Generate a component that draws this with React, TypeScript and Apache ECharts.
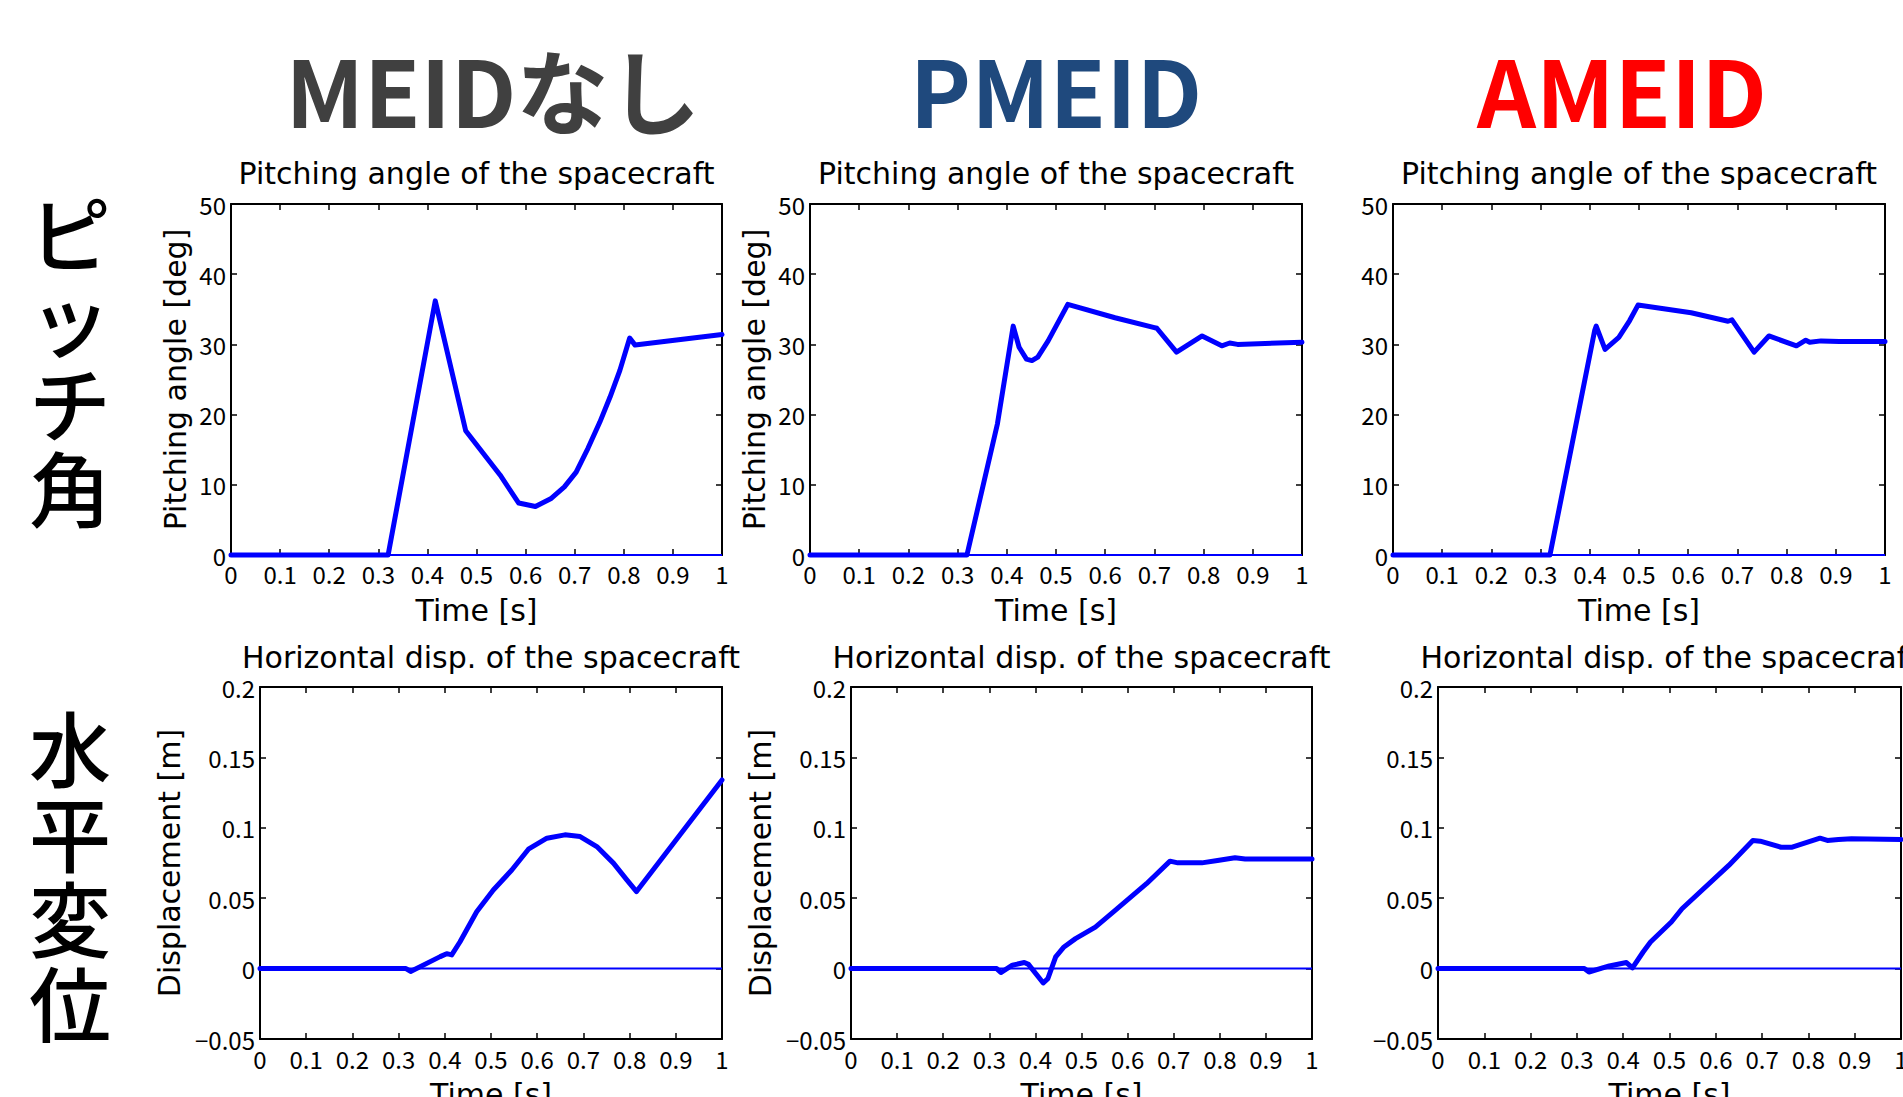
import { useEffect, useRef } from "react";
import * as echarts from "echarts";

const LATIN = "'DejaVu Sans', sans-serif";
const TICKFONT = "'Noto Sans CJK JP', sans-serif";
const CJK = "'Noto Sans CJK JP', sans-serif";

// ---------- texts ----------
const HEADERS = ["MEIDなし", "PMEID", "AMEID"];
const HEADER_COLORS = ["#404040", "#1F497D", "#FF0000"];
const ROW_LABELS = ["ピッチ角", "水平変位"];
const TITLES = ["Pitching angle of the spacecraft", "Horizontal disp. of the spacecraft"];
const X_NAME = "Time [s]";
const Y_NAMES = ["Pitching angle [deg]", "Displacement [m]"];

// ---------- axis ranges ----------
const X_MIN = 0, X_MAX = 1, X_STEP = 0.1;
const PITCH_MIN = 0, PITCH_MAX = 50, PITCH_STEP = 10;
const DISP_MIN = -0.05, DISP_MAX = 0.2, DISP_STEP = 0.05;

// ---------- data: pitching angle [deg] ----------
const PITCH_NONE_T = [0, 0.32, 0.416, 0.478, 0.548, 0.586, 0.62, 0.651, 0.679, 0.703, 0.727, 0.751, 0.772, 0.792, 0.812, 0.823, 1.0];
const PITCH_NONE_V = [0, 0, 36.2, 17.7, 11.4, 7.4, 6.9, 8.0, 9.7, 11.8, 15.2, 18.9, 22.5, 26.3, 30.9, 29.9, 31.4];

const PITCH_P_T = [0, 0.319, 0.381, 0.413, 0.425, 0.44, 0.451, 0.463, 0.484, 0.524, 0.62, 0.7, 0.705, 0.745, 0.797, 0.837, 0.853, 0.869, 1.0];
const PITCH_P_V = [0, 0, 18.7, 32.6, 29.6, 27.9, 27.7, 28.2, 30.5, 35.7, 33.8, 32.4, 32.3, 28.9, 31.2, 29.8, 30.2, 30.0, 30.3];

const PITCH_A_T = [0, 0.319, 0.364, 0.41, 0.413, 0.431, 0.459, 0.481, 0.498, 0.606, 0.681, 0.689, 0.734, 0.764, 0.82, 0.839, 0.847, 0.87, 0.907, 1.0];
const PITCH_A_V = [0, 0, 15.8, 32.0, 32.6, 29.3, 31.0, 33.4, 35.6, 34.5, 33.3, 33.5, 28.9, 31.2, 29.8, 30.6, 30.3, 30.5, 30.4, 30.4];

// ---------- data: horizontal displacement [m] ----------
const DISP_NONE_T = [0, 0.316, 0.326, 0.39, 0.404, 0.415, 0.433, 0.469, 0.505, 0.545, 0.581, 0.621, 0.66, 0.693, 0.729, 0.765, 0.794, 0.815, 1.0];
const DISP_NONE_V = [0, 0, -0.002, 0.0085, 0.0106, 0.0097, 0.0191, 0.0404, 0.0558, 0.07, 0.0848, 0.0926, 0.095, 0.0938, 0.0867, 0.0749, 0.063, 0.0547, 0.134];

const DISP_P_T = [0, 0.316, 0.325, 0.35, 0.376, 0.385, 0.417, 0.427, 0.444, 0.462, 0.487, 0.53, 0.573, 0.641, 0.692, 0.709, 0.761, 0.795, 0.833, 0.855, 1.0];
const DISP_P_V = [0, 0, -0.0028, 0.0024, 0.0043, 0.003, -0.0102, -0.0071, 0.0083, 0.0154, 0.0213, 0.0295, 0.0414, 0.0603, 0.0763, 0.0751, 0.0751, 0.0768, 0.0787, 0.0778, 0.0778];

const DISP_A_T = [0, 0.316, 0.326, 0.37, 0.407, 0.42, 0.443, 0.459, 0.504, 0.527, 0.628, 0.68, 0.696, 0.741, 0.765, 0.825, 0.841, 0.865, 0.893, 1.0];
const DISP_A_V = [0, 0, -0.0024, 0.0019, 0.0043, 0.0005, 0.0118, 0.0189, 0.0331, 0.0425, 0.0733, 0.091, 0.0905, 0.0862, 0.0862, 0.0926, 0.091, 0.0917, 0.0922, 0.0917];

// reference line at zero
const ZERO_T = [0, 1];
const ZERO_V = [0, 0];

// ---------- layout ----------
const PANELS = [
  { row: 0, t: PITCH_NONE_T, v: PITCH_NONE_V, yName: true, grid: { left: 231, top: 204, width: 491, height: 351 } },
  { row: 0, t: PITCH_P_T, v: PITCH_P_V, yName: true, grid: { left: 810, top: 204, width: 492, height: 351 } },
  { row: 0, t: PITCH_A_T, v: PITCH_A_V, yName: false, grid: { left: 1393, top: 204, width: 492, height: 351 } },
  { row: 1, t: DISP_NONE_T, v: DISP_NONE_V, yName: true, grid: { left: 260, top: 687, width: 462, height: 352 } },
  { row: 1, t: DISP_P_T, v: DISP_P_V, yName: true, grid: { left: 851, top: 687, width: 461, height: 352 } },
  { row: 1, t: DISP_A_T, v: DISP_A_V, yName: false, grid: { left: 1438, top: 687, width: 463, height: 352 } },
];
const HEADER_X = [493, 1056, 1622];
const HEADER_Y = 87;
const ROW_LABEL_X = 70;
const ROW_LABEL_Y0 = [230, 745];
const ROW_LABEL_PITCH = 85;
const TITLE_Y = [173, 657];

const zip = (t: number[], v: number[]) => t.map((x, i) => [x, v[i]]);

const BLACK = "#000";
const BLUE = "#0000FF";

function buildOption() {
  const grid: any[] = [];
  const xAxis: any[] = [];
  const yAxis: any[] = [];
  const series: any[] = [];
  const graphic: any[] = [];

  const axisLine = { show: true, onZero: false, lineStyle: { color: BLACK, width: 2 } };
  const axisTick = { show: true, inside: true, length: 6, lineStyle: { color: BLACK, width: 1.5 } };

  PANELS.forEach((p, i) => {
    grid.push({ ...p.grid, containLabel: false, outerBoundsMode: "none" });
    const isPitch = p.row === 0;
    const yMin = isPitch ? PITCH_MIN : DISP_MIN;
    const yMax = isPitch ? PITCH_MAX : DISP_MAX;
    const yStep = isPitch ? PITCH_STEP : DISP_STEP;

    xAxis.push({
      gridIndex: i, type: "value", position: "bottom", min: X_MIN, max: X_MAX, interval: X_STEP,
      axisLine, axisTick, splitLine: { show: false },
      axisLabel: {
        margin: isPitch ? 6 : 7, fontSize: 24, color: BLACK, fontFamily: TICKFONT,
        formatter: (v: number) => String(Math.round(v * 10) / 10),
      },
      name: X_NAME, nameLocation: "middle", nameGap: 40,
      nameTextStyle: { fontSize: 30, color: BLACK, fontFamily: LATIN },
    });
    xAxis.push({
      gridIndex: i, type: "value", position: "top", min: X_MIN, max: X_MAX, interval: X_STEP,
      axisLine, axisTick, splitLine: { show: false }, axisLabel: { show: false },
    });
    yAxis.push({
      gridIndex: i, type: "value", position: "left", min: yMin, max: yMax, interval: yStep,
      axisLine, axisTick, splitLine: { show: false },
      axisLabel: {
        margin: 5, fontSize: 24, color: BLACK, fontFamily: TICKFONT,
        formatter: (v: number) => String(Math.round(v * 100) / 100).replace("-", "\u2212"),
      },
      name: p.yName ? Y_NAMES[p.row] : "", nameLocation: "middle", nameRotate: 90,
      nameGap: isPitch ? 41 : 76,
      nameTextStyle: { fontSize: 30, color: BLACK, fontFamily: LATIN },
    });
    yAxis.push({
      gridIndex: i, type: "value", position: "right", min: yMin, max: yMax, interval: yStep,
      axisLine, axisTick, splitLine: { show: false }, axisLabel: { show: false },
    });

    series.push({
      type: "line", xAxisIndex: 2 * i, yAxisIndex: 2 * i, data: zip(ZERO_T, ZERO_V),
      showSymbol: false, symbol: "none", clip: false, z: 3,
      lineStyle: { color: BLUE, width: 2 },
    });
    series.push({
      type: "line", xAxisIndex: 2 * i, yAxisIndex: 2 * i, data: zip(p.t, p.v),
      showSymbol: false, symbol: "none", clip: false, z: 4,
      lineStyle: { color: BLUE, width: 5, join: "round", cap: "round" },
    });

    graphic.push({
      type: "text", x: p.grid.left + p.grid.width / 2, y: TITLE_Y[p.row],
      style: {
        text: TITLES[p.row], fill: BLACK, fontSize: 30, fontFamily: LATIN,
        align: "center", verticalAlign: "middle",
      },
    });
  });

  HEADERS.forEach((h, i) => {
    graphic.push({
      type: "text", x: HEADER_X[i], y: HEADER_Y,
      style: {
        text: h, fill: HEADER_COLORS[i], fontSize: 92, fontWeight: "bold", fontFamily: CJK,
        align: "center", verticalAlign: "middle",
      },
    });
  });
  ROW_LABELS.forEach((r, i) => {
    Array.from(r).forEach((ch, k) => {
      graphic.push({
        type: "text", x: ROW_LABEL_X, y: ROW_LABEL_Y0[i] + k * ROW_LABEL_PITCH,
        style: {
          text: ch, fill: BLACK, fontSize: 82, fontWeight: 500, fontFamily: CJK,
          align: "center", verticalAlign: "middle",
        },
      });
    });
  });

  return {
    animation: false,
    backgroundColor: "#fff",
    grid, xAxis, yAxis, series, graphic,
  };
}

export default function App() {
  const ref = useRef<HTMLDivElement>(null);
  useEffect(() => {
    if (!ref.current) return;
    const chart = echarts.init(ref.current, undefined, { renderer: "svg" });
    chart.setOption(buildOption() as any);
    return () => chart.dispose();
  }, []);
  return (
    <div
      ref={ref}
      style={{ position: "absolute", left: 0, top: 0, width: 1903, height: 1097, background: "#fff" }}
    />
  );
}
